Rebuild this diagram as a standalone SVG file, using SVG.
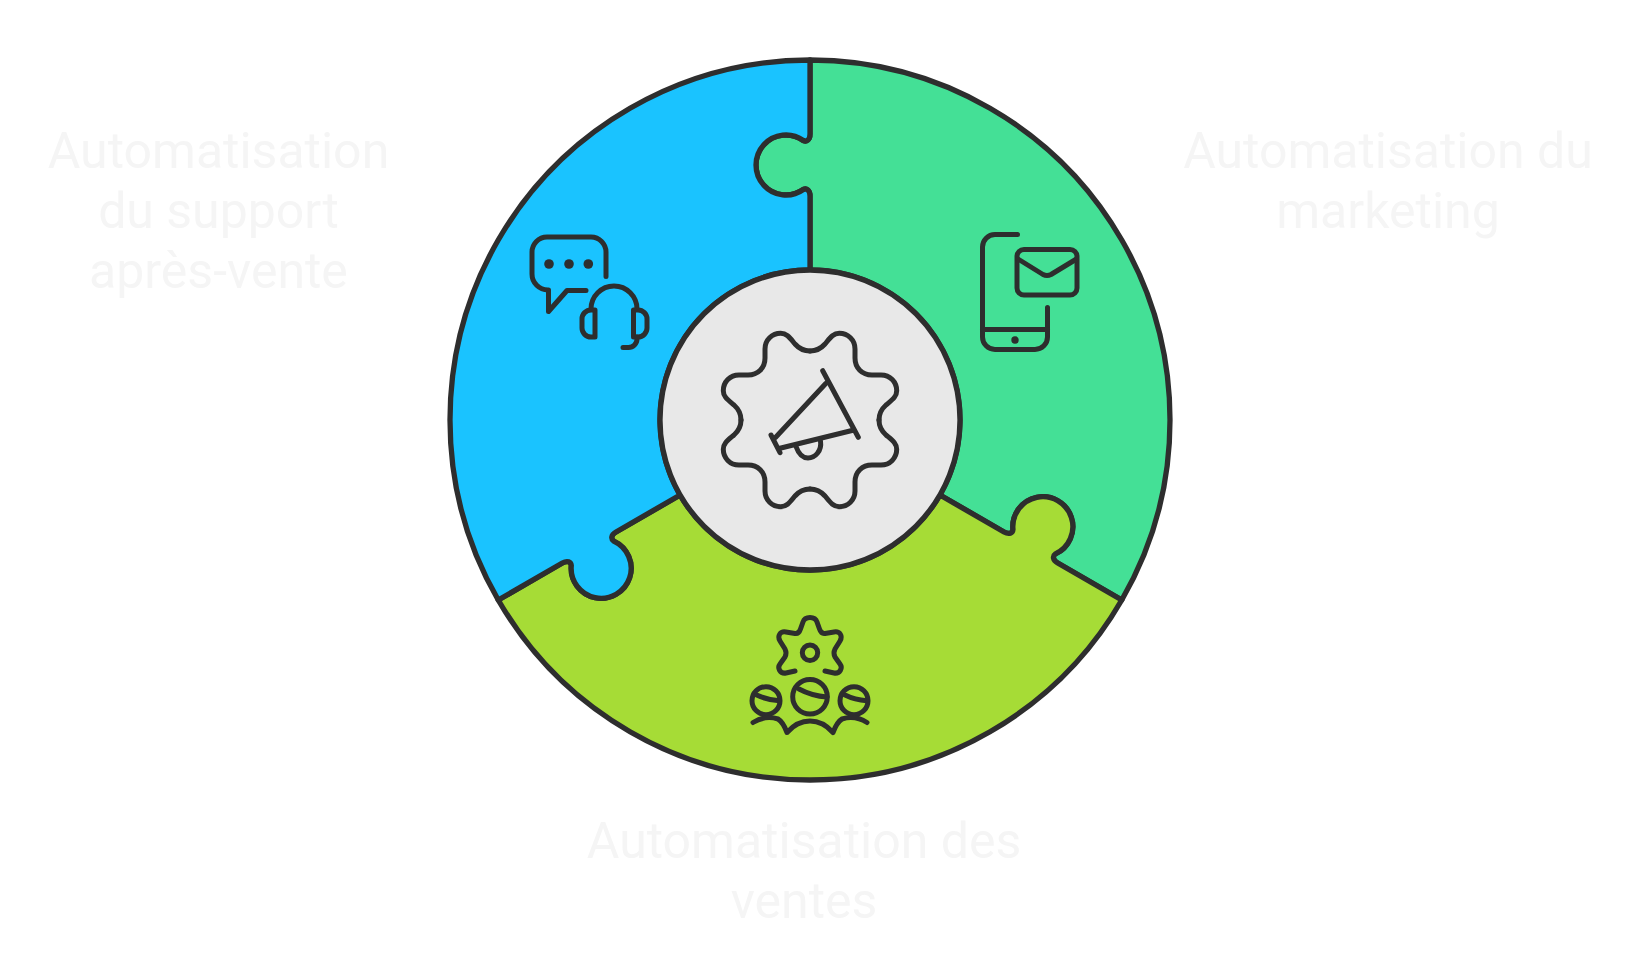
<svg xmlns="http://www.w3.org/2000/svg" xmlns:xlink="http://www.w3.org/1999/xlink" width="1651" height="960" viewBox="0 0 1651 960">
<style>
.wedge,.hub{stroke:#2E2E2E;stroke-width:5.3;stroke-linejoin:round;stroke-linecap:round}
.icon{fill:none;stroke:#2E2E2E;stroke-width:5;stroke-linecap:round;stroke-linejoin:round}
.dot{fill:#2E2E2E;stroke:none}
.label{font-family:Roboto,"Liberation Sans",sans-serif;font-size:50px;fill:#F5F5F5;text-anchor:middle}
</style>
<defs>
<path id="wedge" d="M810 60A360 360 0 0 1 1121.77 600L1057.68 563C1052.49 560 1052.5 555.97 1055.4 553.95A30 30 0 1 0 1012.96 529.45C1012.67 532.97 1009.18 535 1003.99 532L939.9 495A150 150 0 0 0 810 270L810 196C810 190 806.5 188 803.3 189.5A30 30 0 1 1 803.3 140.5C806.5 142 810 140 810 134Z"/>
<path id="quad" d="M0 -69C7 -69 11 -71.5 15 -76C20 -82 23 -86.7 29.3 -86.7C38 -86.7 45 -80 45 -71L45 -62C45 -52 52 -45 62 -45L71 -45C80 -45 86.7 -38 86.7 -29.3C86.7 -23 82 -20 76 -15C71.5 -11 69 -7 69 0"/>
</defs>
<g id="node-marketing">
<use href="#wedge" class="wedge" fill="#44E096"/>
<g class="icon">
<path d="M1017.5 234.5H995A12.5 12.5 0 0 0 982.5 247V337A12.5 12.5 0 0 0 995 349.5H1035A12.5 12.5 0 0 0 1047.5 337V307.5"/>
<path d="M982.5 329.5H1047.5"/>
<rect x="1017" y="249.5" width="60" height="45.5" rx="7"/>
<path d="M1018 259L1043 274.5Q1047 276.5 1051 274.5L1076.5 259"/>
</g>
<circle class="dot" cx="1015" cy="340" r="3.7"/>
<text class="label" x="1388" y="168">Automatisation du</text>
<text class="label" x="1388" y="228">marketing</text>
</g>
<g id="node-ventes">
<use href="#wedge" class="wedge" fill="#A6DC36" transform="rotate(120 810 420)"/>
<g class="icon">
<path d="M795 671L786 673C780 674 777 668 780 664L785 657Q787 653 785 649L780 641C777 636 780 631 786 632L795 633.5C798 634 799.5 632 800.5 629L803 622C805 616 815 616 817 622L819.5 629C820.5 632 822 634 825 633.5L834 632C840 631 843 636 840 641L835 649Q833 653 835 657L840 664C843 668 840 674 834 673L825 671"/>
<circle cx="810" cy="652.7" r="7.7"/>
<circle cx="810" cy="696.7" r="17.3"/>
<path d="M799 689Q812 696 827 697"/>
<circle cx="766" cy="700.7" r="14"/>
<path d="M756.7 695Q767 700 779.3 700.7"/>
<circle cx="854" cy="700.7" r="14"/>
<path d="M845 695Q855 700 866.7 700.7"/>
<path d="M753 722.5Q765 715 778 719Q783 722 787 732.5Q797 721 810 721Q823 721 833 732.5Q837 722 842 719Q855 715 867 722.5"/>
</g>
<text class="label" x="804" y="858">Automatisation des</text>
<text class="label" x="804" y="918">ventes</text>
</g>
<g id="node-support">
<use href="#wedge" class="wedge" fill="#1AC3FF" transform="rotate(240 810 420)"/>
<g class="icon">
<path d="M606 276.5V252A15 15 0 0 0 591 237H547A15 15 0 0 0 532 252V274A16 16 0 0 0 548 290H548.5V311.5L567 290.5H586"/>
<path d="M591 309A23 23 0 0 1 637 309"/>
<path d="M595 310V337H591A9 9 0 0 1 582 328V319A9 9 0 0 1 591 310Z"/>
<path d="M633.5 310V337H638A9 9 0 0 0 647 328V319A9 9 0 0 0 638 310Z"/>
<path d="M637 337V339A8.5 8.5 0 0 1 628.5 347.5H623"/>
</g>
<circle class="dot" cx="549" cy="264" r="4.8"/>
<circle class="dot" cx="569" cy="264" r="4.8"/>
<circle class="dot" cx="588.3" cy="264" r="4.8"/>
<text class="label" x="218.5" y="168">Automatisation</text>
<text class="label" x="218.5" y="228">du support</text>
<text class="label" x="218.5" y="288">après-vente</text>
</g>
<g id="node-hub">
<circle class="hub" cx="810" cy="420" r="150" fill="#E8E8E8"/>
<g class="icon" transform="translate(810 420)">
<use href="#quad"/>
<use href="#quad" transform="rotate(90)"/>
<use href="#quad" transform="rotate(180)"/>
<use href="#quad" transform="rotate(270)"/>
</g>
<g class="icon">
<path d="M822.7 370.7L858.3 437.3"/>
<path d="M826 383.3L775.7 437.3"/>
<path d="M854 430L780 448.3"/>
<path d="M771 435L780 452.7"/>
<path d="M796 446.5C799 455 804 458 808 458C815 458 822 451 820.5 441"/>
</g>
</g>
<g id="connectors"/>
</svg>
